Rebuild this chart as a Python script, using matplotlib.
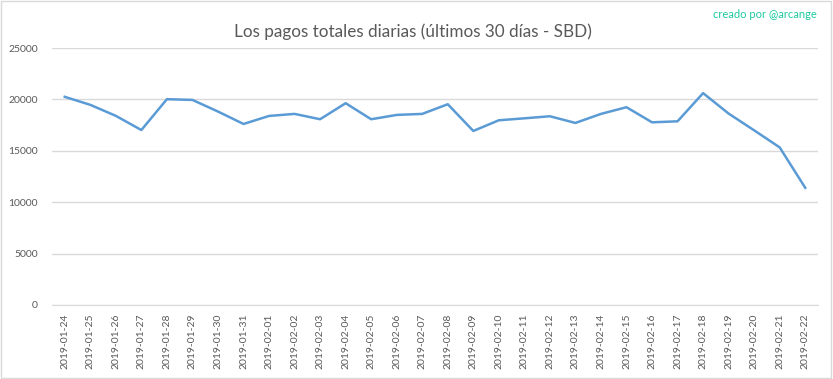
import numpy as np
import pandas as pd
import matplotlib.pyplot as plt
from matplotlib.patches import Rectangle

# datos
fechas = pd.date_range('2019-01-24', '2019-02-22').strftime('%Y-%m-%d').tolist()
pagos = [20250, 19470, 18400, 17020, 20020, 19950, 18820, 17610, 18390, 18590,
         18070, 19630, 18070, 18490, 18590, 19530, 16930, 17970, 18160, 18360,
         17710, 18590, 19240, 17770, 17870, 20610, 18620, 16990, 15330, 11400]
yticks = [0, 5000, 10000, 15000, 20000, 25000]

plt.rcParams['font.family'] = ['Lato', 'DejaVu Sans']

fig = plt.figure(figsize=(8.33, 3.79), dpi=100)
ax = fig.add_axes([52/833, 1-305/379, 766/833, 257/379])

x = np.arange(len(fechas))
ax.plot(x, pagos, color='#5b9bd5', linewidth=1.8)

ax.set_xlim(-0.5, len(fechas)-0.5)
ax.set_ylim(0, 25000)
ax.set_yticks(yticks)
ax.set_yticklabels([str(v) for v in yticks])
ax.set_xticks(x)
ax.set_xticklabels(fechas, rotation=90)
ax.tick_params(axis='both', length=0, labelsize=7.5, colors='#595959')
ax.tick_params(axis='x', pad=6)
ax.tick_params(axis='y', pad=10)
ax.grid(axis='y', color='#d9d9d9', linewidth=1)
ax.set_axisbelow(True)
for s in ['top', 'right', 'left']:
    ax.spines[s].set_visible(False)
ax.spines['bottom'].set_color('#d9d9d9')

fig.text(413/833, 1-32/379, 'Los pagos totales diarias (últimos 30 días - SBD)',
         ha='center', va='center', fontsize=12.3, color='#595959')
fig.text(817/833, 1-15/379, 'creado por @arcange', ha='right', va='center',
         fontsize=8, color='#1ec8a0')

# borde
fig.patches.append(Rectangle((0.001, 0.002), 0.997, 0.996, transform=fig.transFigure,
                             fill=False, edgecolor='#d9d9d9', linewidth=1))

fig.savefig('out.png', dpi=100)
